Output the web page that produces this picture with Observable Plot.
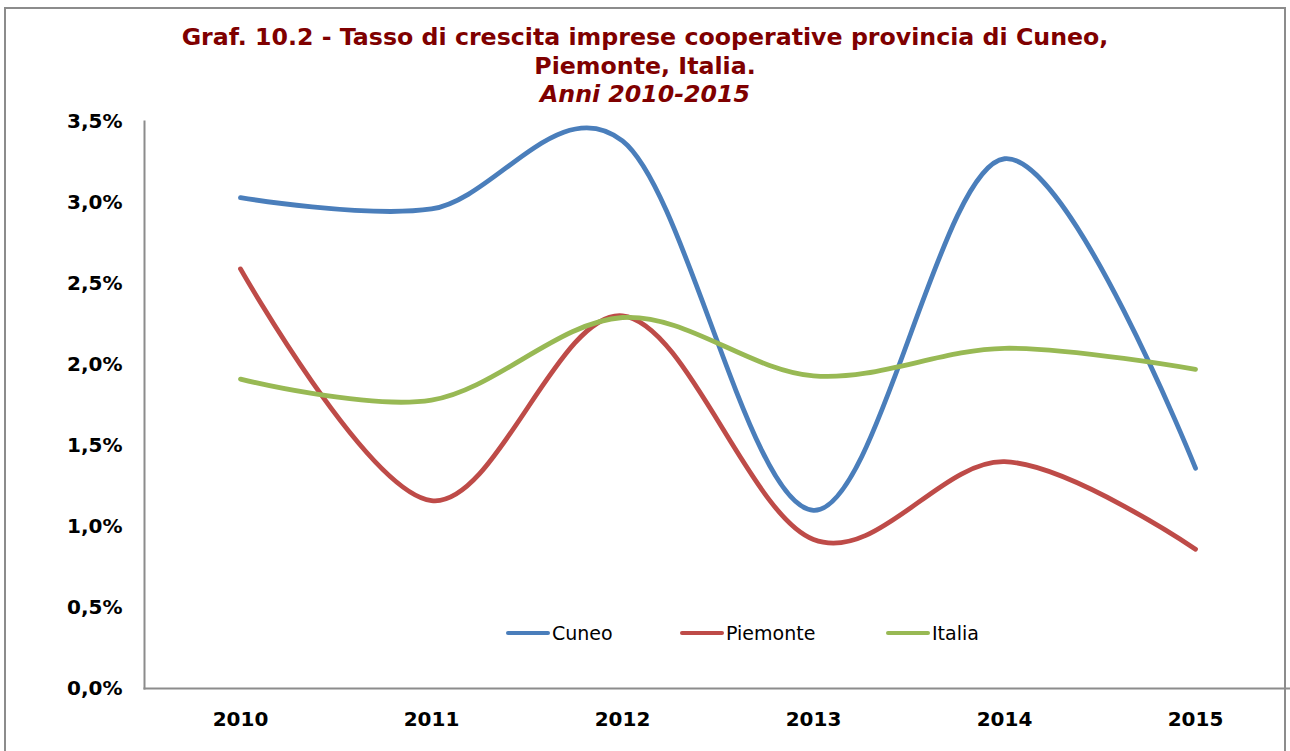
<!DOCTYPE html>
<html>
<head>
<meta charset="utf-8">
<script src="https://cdn.jsdelivr.net/npm/d3@7"></script>
<script src="https://cdn.jsdelivr.net/npm/@observablehq/plot@0.6"></script>
<style>
  html, body { margin: 0; padding: 0; background: #fff; }
  #wrap { position: relative; width: 1290px; height: 751px; overflow: hidden; font-family: "DejaVu Sans", Verdana, sans-serif; }
  #frame { position: absolute; left: 4px; top: 7px; width: 1282px; height: 760px; border: 2px solid #8c8c8c; box-sizing: border-box; }
  #title { position: absolute; left: 0; top: 23px; width: 1290px; text-align: center; color: #7f0000; font-weight: bold; font-size: 23.7px; line-height: 28.5px; }
  #chart { position: absolute; left: 0; top: 0; }
  #legend { position: absolute; top: 622px; left: 0; height: 24px; font-family: "DejaVu Sans", Verdana, sans-serif; font-size: 19px; color: #000; }
  .item { position: absolute; top: 0; display: flex; align-items: center; white-space: nowrap; }
  .sw { width: 44px; height: 4.5px; border-radius: 2px; margin-right: 2px; }
</style>
</head>
<body>
<div id="wrap">
  <div id="frame"></div>
  <div id="chart"></div>
  <div id="title">Graf. 10.2 - Tasso di crescita imprese cooperative provincia di Cuneo,<br>Piemonte, Italia.<br><i>Anni 2010-2015</i></div>
  <div id="legend"></div>
</div>
<script>
const years = ["2010", "2011", "2012", "2013", "2014", "2015"];
const seriesNames = ["Cuneo", "Piemonte", "Italia"];
const cuneo = [3.03, 2.96, 3.38, 1.10, 3.27, 1.36];
const piemonte = [2.59, 1.16, 2.30, 0.92, 1.40, 0.86];
const italia = [1.91, 1.78, 2.29, 1.93, 2.10, 1.97];
const colors = ["#4a7ebb", "#be4b48", "#98b954"];
const yTicks = [0, 0.5, 1.0, 1.5, 2.0, 2.5, 3.0, 3.5];

const valuesBySeries = [cuneo, piemonte, italia];
const data = [];
seriesNames.forEach((s, i) => {
  years.forEach((y, j) => data.push({ series: s, year: y, value: valuesBySeries[i][j] }));
});

const fmt = d => d.toFixed(1).replace(".", ",") + "%";

const chart = Plot.plot({
  width: 1290,
  height: 751,
  marginTop: 121,
  marginBottom: 63,
  marginLeft: 144,
  marginRight: 0,
  style: { fontFamily: "DejaVu Sans, Verdana, sans-serif", background: "transparent", overflow: "visible" },
  x: { type: "point", domain: years, padding: 0.5 },
  y: { domain: [0, 3.5] },
  color: { domain: seriesNames, range: colors },
  marks: [
    Plot.axisY({ ticks: yTicks, tickFormat: fmt, tickSize: 0, tickPadding: 22, fontSize: 20, fontWeight: "bold", fill: "#000", label: null }),
    Plot.axisX({ tickSize: 0, tickPadding: 23, fontSize: 20, fontWeight: "bold", fill: "#000", label: null }),
    Plot.line(data, { x: "year", y: "value", z: "series", stroke: "series", strokeWidth: 4.8, curve: "cardinal", strokeLinecap: "round" }),
    Plot.frame({ anchor: "left", stroke: "#8c8c8c", strokeWidth: 2 }),
    Plot.frame({ anchor: "bottom", stroke: "#8c8c8c", strokeWidth: 2 })
  ]
});
document.getElementById("chart").appendChild(chart);

// legend inside plot area
const legend = document.getElementById("legend");
const legendLeft = [506, 680, 886];
seriesNames.forEach((s, i) => {
  const it = document.createElement("div");
  it.className = "item";
  it.style.left = legendLeft[i] + "px";
  const sw = document.createElement("div");
  sw.className = "sw";
  sw.style.background = colors[i];
  const tx = document.createElement("span");
  tx.textContent = s;
  it.appendChild(sw);
  it.appendChild(tx);
  legend.appendChild(it);
});
</script>
</body>
</html>
